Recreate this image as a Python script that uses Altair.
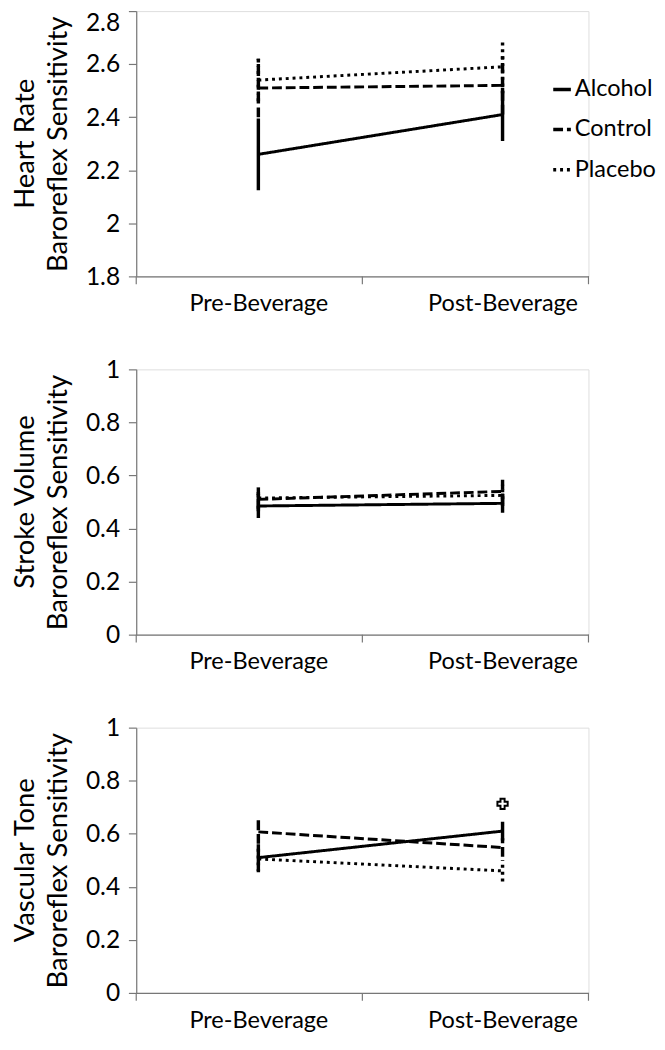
import altair as alt
import pandas as pd

FONT = "Lato"

phases = ["Pre-Beverage", "Post-Beverage"]
groups = ["Alcohol", "Control", "Placebo"]

# Heart Rate Baroreflex Sensitivity (mean, error)
hr_alcohol = [2.26, 2.41]
hr_control = [2.51, 2.52]
hr_placebo = [2.54, 2.59]
hr_alcohol_err = [0.135, 0.10]
hr_control_err = [0.11, 0.11]
hr_placebo_err = [0.08, 0.10]

# Stroke Volume Baroreflex Sensitivity
sv_alcohol = [0.485, 0.495]
sv_control = [0.51, 0.54]
sv_placebo = [0.515, 0.525]
sv_alcohol_err = [0.045, 0.035]
sv_control_err = [0.045, 0.045]
sv_placebo_err = [0.04, 0.04]

# Vascular Tone Baroreflex Sensitivity
vt_alcohol = [0.51, 0.61]
vt_control = [0.607, 0.548]
vt_placebo = [0.505, 0.46]
vt_alcohol_err = [0.05, 0.035]
vt_control_err = [0.045, 0.035]
vt_placebo_err = [0.05, 0.04]

# significance marker in the Vascular Tone panel
vt_marker_phase = ["Post-Beverage"]
vt_marker_value = [0.713]

hr_ticks = [1.8, 2.0, 2.2, 2.4, 2.6, 2.8]
unit_ticks = [0, 0.2, 0.4, 0.6, 0.8, 1.0]

W = 462
H = 271
AXIS_COLOR = "#777777"


def frame(means, errs):
    rows = []
    # draw order: Placebo, Control, Alcohol (solid on top)
    for g, m, e in reversed(list(zip(groups, means, errs))):
        for i, p in enumerate(phases):
            rows.append({"group": g, "phase": p, "mean": m[i],
                         "lo": m[i] - e[i], "hi": m[i] + e[i]})
    return pd.DataFrame(rows)


def panel(means, errs, measure, domain, ticks, legend=False, top_flush=False,
          marker=None):
    df = frame(means, errs)
    x = alt.X("phase:N", sort=phases,
              scale=alt.Scale(type="point", padding=0.426, align=0.587),
              axis=alt.Axis(title=None, labelAngle=0, ticks=False, domain=True,
                            domainColor=AXIS_COLOR, domainWidth=1.2,
                            labelFontSize=24, labelFont=FONT, labelColor="black",
                            labelPadding=16))
    ykw = dict(title="Baroreflex Sensitivity", values=ticks, format=".1~f",
               grid=False, domainColor=AXIS_COLOR, domainWidth=1.2,
               tickColor=AXIS_COLOR, tickSize=8, tickWidth=1.2,
               labelFontSize=25, labelFont=FONT, labelColor="black",
               labelPadding=9, titleFont=FONT, titleFontSize=28,
               titleFontWeight="normal", titleColor="black", titlePadding=13)
    if top_flush:
        ykw["labelBaseline"] = {"condition": {"test": f"datum.value == {ticks[-1]}",
                                              "value": "top"},
                                "value": "middle"}
    yscale = alt.Scale(domain=domain, nice=False, zero=False)
    if legend:
        leg = alt.Legend(title=None, orient="none", legendX=423, legendY=68,
                         symbolType="stroke", symbolSize=324,
                         symbolStrokeWidth=3.5, symbolStrokeColor="black",
                         labelFontSize=24, labelFont=FONT, labelColor="black",
                         rowPadding=17, labelOffset=1)
    else:
        leg = None
    dash = alt.StrokeDash("group:N",
                          scale=alt.Scale(domain=groups,
                                          range=[[1, 0], [10, 4], [3, 4]]),
                          legend=leg)
    base = alt.Chart(df)
    bars = base.mark_rule(color="black", strokeWidth=3.5).encode(
        x=x,
        y=alt.Y("lo:Q", scale=yscale, axis=alt.Axis(**ykw)),
        y2="hi:Q",
        strokeDash=dash,
    )
    lines = base.mark_line(color="black", strokeWidth=3).encode(
        x=x,
        y=alt.Y("mean:Q", scale=yscale),
        strokeDash=dash,
        detail="group:N",
    )
    layers = [bars, lines]
    one = alt.Data(values=[{"k": 0}])
    for tx in [0, W / 2, W]:
        layers.append(alt.Chart(one).mark_rule(color=AXIS_COLOR, strokeWidth=1.2).encode(
            x=alt.value(tx), y=alt.value(H), y2=alt.value(H + 8)))
    if marker is not None:
        mdf = pd.DataFrame({"phase": marker[0], "value": marker[1]})
        layers.append(alt.Chart(mdf).mark_point(shape="cross", filled=False,
                                                color="black", strokeWidth=2,
                                                size=110, opacity=1).encode(
            x=x, y=alt.Y("value:Q", scale=yscale)))
    return alt.layer(*layers).properties(
        width=W, height=H,
        title=alt.TitleParams(measure, orient="left", anchor="middle",
                              frame="group", fontSize=28, font=FONT,
                              fontWeight="normal", color="black", offset=6))


top = panel([hr_alcohol, hr_control, hr_placebo],
            [hr_alcohol_err, hr_control_err, hr_placebo_err],
            "Heart Rate", [1.8, 2.8], hr_ticks,
            legend=True, top_flush=True)
mid = panel([sv_alcohol, sv_control, sv_placebo],
            [sv_alcohol_err, sv_control_err, sv_placebo_err],
            "Stroke Volume", [0, 1], unit_ticks)
bot = panel([vt_alcohol, vt_control, vt_placebo],
            [vt_alcohol_err, vt_control_err, vt_placebo_err],
            "Vascular Tone", [0, 1], unit_ticks,
            marker=(vt_marker_phase, vt_marker_value))

chart = alt.vconcat(top, mid, bot, spacing=41).resolve_scale(
    strokeDash="independent").resolve_legend(strokeDash="independent").properties(
    padding={"left": 3, "top": -10, "right": 0, "bottom": 0}
).configure_view(stroke=None).configure(font=FONT)

chart.save("out.html", embed_options={"renderer": "svg", "actions": False})
